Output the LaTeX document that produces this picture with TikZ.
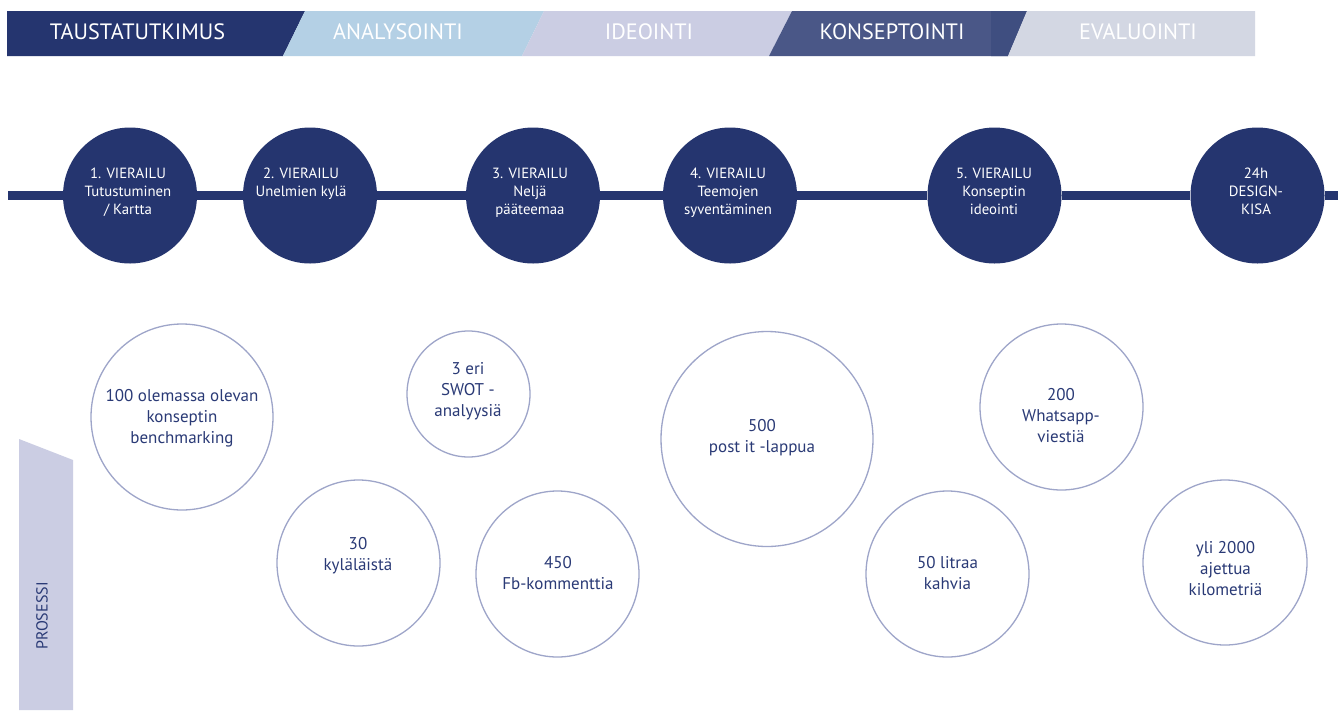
\documentclass[tikz,border=0pt]{standalone}
\usepackage{fontspec}
\setmainfont{PT Sans}
\usetikzlibrary{shapes.geometric}
\definecolor{navy}{HTML}{25356F}
\definecolor{lightblue}{HTML}{B4D0E5}
\definecolor{lavender}{HTML}{CBCDE3}
\definecolor{konsept}{HTML}{4A5787}
\definecolor{konseptdark}{HTML}{3F4E80}
\definecolor{evalu}{HTML}{D3D7E3}
\definecolor{circline}{HTML}{9EA5C9}
\definecolor{textnavy}{HTML}{2A3A76}
\tikzset{
  phase/.style={text=white, inner sep=0pt, font=\fontsize{22.2}{24}\selectfont},
  visit/.style={ellipse, fill=navy, draw=none, minimum width=134pt, minimum height=136pt, inner sep=0pt},
  visittext/.style={text=white, align=center, anchor=north, inner sep=0pt, font=\fontsize{14.8}{18}\selectfont},
  fact/.style={ellipse, draw=circline, line width=1.3pt, fill=white, inner sep=0pt},
  facttext/.style={text=textnavy, align=center, inner sep=0pt, font=\fontsize{17}{21}\selectfont},
  timeline/.style={draw=navy, line width=9pt}
}
\begin{document}
\begin{tikzpicture}[x=1pt,y=-1pt]
\useasboundingbox[fill=white] (0,0) rectangle (1341,710);
% banner
\fill[navy] (7,11) -- (305,11) -- (283,56) -- (7,56) -- cycle;
\fill[lightblue] (305,11) -- (544,11) -- (522,56) -- (283,56) -- cycle;
\fill[lavender] (544,11) -- (792,11) -- (769,56) -- (522,56) -- cycle;
\fill[konsept] (792,11) -- (1027,11) -- (1008,56) -- (769,56) -- cycle;
\fill[konseptdark] (991,11) -- (1027,11) -- (1008,56) -- (991,56) -- cycle;
\fill[evalu] (1027,11) -- (1255,11) -- (1255,56) -- (1008,56) -- cycle;
\node[phase] (p1) at (137.5,31.5) {TAUSTATUTKIMUS};
\node[phase] (p2) at (398,31.5) {ANALYSOINTI};
\node[phase] (p3) at (649,31.5) {IDEOINTI};
\node[phase] (p4) at (892,31.5) {KONSEPTOINTI};
\node[phase] (p5) at (1138,31.5) {EVALUOINTI};
% timeline
\coordinate (L0) at (8,195.5);
\coordinate (L1) at (1338,195.5);
\node[visit] (e1) at (130,195.5) {};
\node[visit] (e2) at (310,195.5) {};
\node[visit] (e3) at (533,195.5) {};
\node[visit] (e4) at (730,195.5) {};
\node[visit] (e5) at (994.5,195.5) {};
\node[visit] (e6) at (1257.5,195.5) {};
\draw[timeline] (L0) -- (e1) (e1) -- (e2) (e2) -- (e3) (e3) -- (e4) (e4) -- (e5) (e5) -- (e6) (e6) -- (L1);
\node[visittext] (t1) at (128,168) {1. VIERAILU\\Tutustuminen\\/ Kartta};
\node[visittext] (t2) at (301,168) {2. VIERAILU\\Unelmien kylä};
\node[visittext] (t3) at (530,168) {3. VIERAILU\\Neljä\\pääteemaa};
\node[visittext] (t4) at (728,168) {4. VIERAILU\\Teemojen\\syventäminen};
\node[visittext] (t5) at (994,168) {5. VIERAILU\\Konseptin\\ideointi};
\node[visittext] (t6) at (1256,168) {24h\\DESIGN-\\KISA};
% prosessi
\fill[lavender] (19,439) -- (73,460) -- (73,710) -- (19,710) -- cycle;
\node[text=textnavy, rotate=90, inner sep=0pt, font=\fontsize{16}{18}\selectfont] (pr) at (42,616) {PROSESSI};
% facts
\node[fact, minimum width=182pt, minimum height=186pt] (b1) at (182,417) {};
\node[fact, minimum width=123pt, minimum height=126pt] (b2) at (468.5,394) {};
\node[fact, minimum width=163pt, minimum height=166pt] (b3) at (358.5,563) {};
\node[fact, minimum width=163pt, minimum height=166pt] (b4) at (557.5,574) {};
\node[fact, minimum width=212pt, minimum height=215pt] (b5) at (767,439) {};
\node[fact, minimum width=163pt, minimum height=166pt] (b6) at (1061.5,407) {};
\node[fact, minimum width=163pt, minimum height=166pt] (b7) at (947.5,574) {};
\node[fact, minimum width=164pt, minimum height=165pt] (b8) at (1225,562.5) {};
\node[facttext] (f1) at (182,418) {100 olemassa olevan\\konseptin\\benchmarking};
\node[facttext] (f2) at (468,391) {3 eri\\SWOT -\\analyysiä};
\node[facttext] (f3) at (358,556) {30\\kyläläistä};
\node[facttext] (f4) at (558,573.5) {450\\Fb-kommenttia};
\node[facttext] (f5) at (762,438) {500\\post it -lappua};
\node[facttext] (f6) at (1061,416) {200\\Whatsapp-\\viestiä};
\node[facttext] (f7) at (947.5,573.5) {50 litraa\\kahvia};
\node[facttext] (f8) at (1225.5,569) {yli 2000\\ajettua\\kilometriä};
\end{tikzpicture}
\end{document}
